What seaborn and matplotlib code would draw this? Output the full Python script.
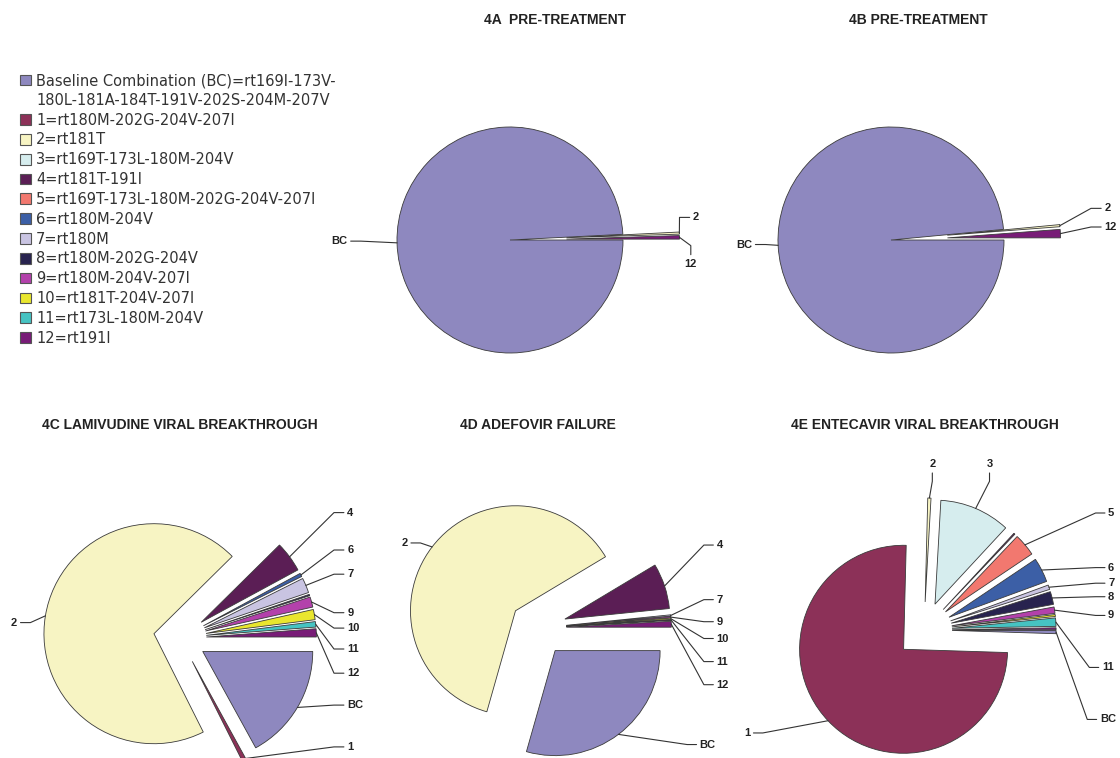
import numpy as np
import seaborn as sns
import matplotlib.pyplot as plt
from matplotlib.patches import Patch

# genotype groups, in the order the slices run (clockwise from 3 o'clock)
groups = ['BC', '1', '2', '3', '4', '5', '6', '7', '8', '9', '10', '11', '12']
legend_text = [
    'Baseline Combination (BC)=rt169I-173V-',
    '1=rt180M-202G-204V-207I',
    '2=rt181T',
    '3=rt169T-173L-180M-204V',
    '4=rt181T-191I',
    '5=rt169T-173L-180M-202G-204V-207I',
    '6=rt180M-204V',
    '7=rt180M',
    '8=rt180M-202G-204V',
    '9=rt180M-204V-207I',
    '10=rt181T-204V-207I',
    '11=rt173L-180M-204V',
    '12=rt191I',
]
bc_wrap = '180L-181A-184T-191V-202S-204M-207V'
group_colors = ['#8E88BF', '#8C3158', '#F7F4C3', '#D6EDEE', '#5B1E55', '#F2786F',
                '#3C5FA6', '#C9C4E2', '#28234F', '#B341AB', '#E9E62E', '#46C3C2', '#781C77']

# share of clones (%) per panel, estimated from the figure
pct_4a = [99.2, 0, 0.3, 0, 0, 0, 0, 0, 0, 0, 0, 0, 0.5]
pct_4b = [98.5, 0, 0.3, 0, 0, 0, 0, 0, 0, 0, 0, 0, 1.2]
pct_4c = [17, 0.6, 70, 0, 4.5, 0, 0.5, 2.2, 0.2, 1.5, 1.5, 0.8, 1.2]
pct_4d = [29.4, 0, 62, 0, 7, 0, 0, 0.2, 0, 0.2, 0.2, 0.1, 0.9]
pct_4e = [0.5, 74.9, 0.5, 11, 0.2, 3.5, 3.8, 0.7, 2, 1, 0.3, 1.3, 0.3]

titles = ['4A  PRE-TREATMENT', '4B PRE-TREATMENT', '4C LAMIVUDINE VIRAL BREAKTHROUGH',
          '4D ADEFOVIR FAILURE', '4E ENTECAVIR VIRAL BREAKTHROUGH']

sns.set_theme(style='white')
plt.rcParams['font.family'] = ['Liberation Sans', 'DejaVu Sans']
palette = sns.color_palette(group_colors)

W, H = 1120, 758
fig = plt.figure(figsize=(W / 100, H / 100), dpi=100)
fig.patch.set_facecolor('white')


def pie_axes(cx, cy, r):
    # square axes centred on (cx, cy) pixels, radius 1 == r pixels
    s = 4 * r
    ax = fig.add_axes([(cx - s / 2) / W, 1 - (cy + s / 2) / H, s / W, s / H])
    return ax


def leader(ax, wedge, name, tx, ty, mode):
    mid = np.deg2rad((wedge.theta1 + wedge.theta2) / 2)
    cx, cy = wedge.center
    px, py = cx + wedge.r * np.cos(mid), cy + wedge.r * np.sin(mid)
    if mode == 'r':
        pts = [(px, py), (tx - 0.12, ty), (tx - 0.03, ty)]
        ha, va = 'left', 'center'
    elif mode == 'l':
        pts = [(px, py), (tx + 0.12, ty), (tx + 0.03, ty)]
        ha, va = 'right', 'center'
    elif mode == 'b':
        pts = [(px, py), (tx, ty - 0.12), (tx, ty - 0.04)]
        ha, va = 'center', 'bottom'
    else:
        pts = [(px, py), (tx, ty + 0.12), (tx, ty + 0.04)]
        ha, va = 'center', 'top'
    xs, ys = zip(*pts)
    ax.plot(xs, ys, color='#333333', lw=0.8, clip_on=False)
    ax.text(tx, ty, name, ha=ha, va=va, fontsize=8, fontweight='bold', color='#222222')


def draw_pie(values, cx, cy, r, expl, labels):
    ax = pie_axes(cx, cy, r)
    # groups with no clones get no slice
    keep = [i for i, v in enumerate(values) if v > 0]
    names = [groups[i] for i in keep]
    wedges, _ = ax.pie([values[i] for i in keep], colors=[palette[i] for i in keep],
                       startangle=0, counterclock=False,
                       explode=[expl[i] for i in keep], radius=1,
                       wedgeprops=dict(edgecolor='#3a3a3a', linewidth=0.6))
    lim = 2.0
    ax.set_xlim(-lim, lim)
    ax.set_ylim(-lim, lim)
    ax.axis('off')
    for name, tx, ty, mode in labels:
        leader(ax, wedges[names.index(name)], name, tx, ty, mode)
    return ax


def tip_explode(amount):
    e = [0] * len(groups)
    e[groups.index('2')] = amount
    e[groups.index('12')] = amount
    return e


draw_pie(pct_4a, 510, 240, 113, tip_explode(0.5),
         [('BC', -1.44, -0.01, 'l'), ('2', 1.62, 0.20, 'r'), ('12', 1.60, -0.17, 't')])
draw_pie(pct_4b, 891, 240, 113, tip_explode(0.5),
         [('BC', -1.23, -0.04, 'l'), ('2', 1.89, 0.28, 'r'), ('12', 1.89, 0.115, 'r')])
draw_pie(pct_4c, 180, 638, 110, [0.24] * len(groups),
         [('2', -1.48, 0.14, 'l'), ('4', 1.52, 1.14, 'r'), ('6', 1.52, 0.80, 'r'),
          ('7', 1.52, 0.58, 'r'), ('9', 1.52, 0.23, 'r'), ('10', 1.52, 0.09, 'r'),
          ('11', 1.52, -0.10, 'r'), ('12', 1.52, -0.32, 'r'), ('BC', 1.52, -0.61, 'r'),
          ('1', 1.52, -0.99, 'r')])
draw_pie(pct_4d, 538, 628, 105, [0.27] * len(groups),
         [('2', -1.24, 0.81, 'l'), ('4', 1.70, 0.79, 'r'), ('7', 1.70, 0.27, 'r'),
          ('9', 1.70, 0.06, 'r'), ('10', 1.70, -0.10, 'r'), ('11', 1.70, -0.32, 'r'),
          ('12', 1.70, -0.54, 'r'), ('BC', 1.54, -1.11, 'r')])
draw_pie(pct_4e, 924, 630, 104, [0.27] * len(groups),
         [('1', -1.67, -0.99, 'l'), ('2', 0.08, 1.55, 'b'), ('3', 0.63, 1.55, 'b'),
          ('5', 1.77, 1.125, 'r'), ('6', 1.77, 0.60, 'r'), ('7', 1.77, 0.45, 'r'),
          ('8', 1.77, 0.32, 'r'), ('9', 1.77, 0.14, 'r'), ('11', 1.71, -0.36, 'r'),
          ('BC', 1.69, -0.86, 'r')])

# panel titles
title_pos = [(555, 20), (918, 20), (180, 425), (538, 425), (925, 425)]
for t, (x, y) in zip(titles, title_pos):
    fig.text(x / W, 1 - y / H, t, ha='center', va='center', fontsize=10,
             fontweight='bold', color='#222222')

# legend, top left; the long BC entry wraps onto a second row without a swatch
handles = [Patch(facecolor=c, edgecolor='#555555', linewidth=0.8, label=t)
           for c, t in zip(palette, legend_text)]
handles.insert(1, Patch(facecolor='none', edgecolor='none', label=bc_wrap))
leg = fig.legend(handles=handles, loc='upper left', bbox_to_anchor=(20 / W, 1 - 73 / H),
                 frameon=False, fontsize=10.5, handlelength=0.75, handleheight=0.75,
                 handletextpad=0.35, labelspacing=0.33, borderpad=0, borderaxespad=0,
                 labelcolor='#333333')
for txt in leg.get_texts():
    txt.set_family('DejaVu Sans')

fig.savefig('out.png', dpi=100, facecolor='white')
